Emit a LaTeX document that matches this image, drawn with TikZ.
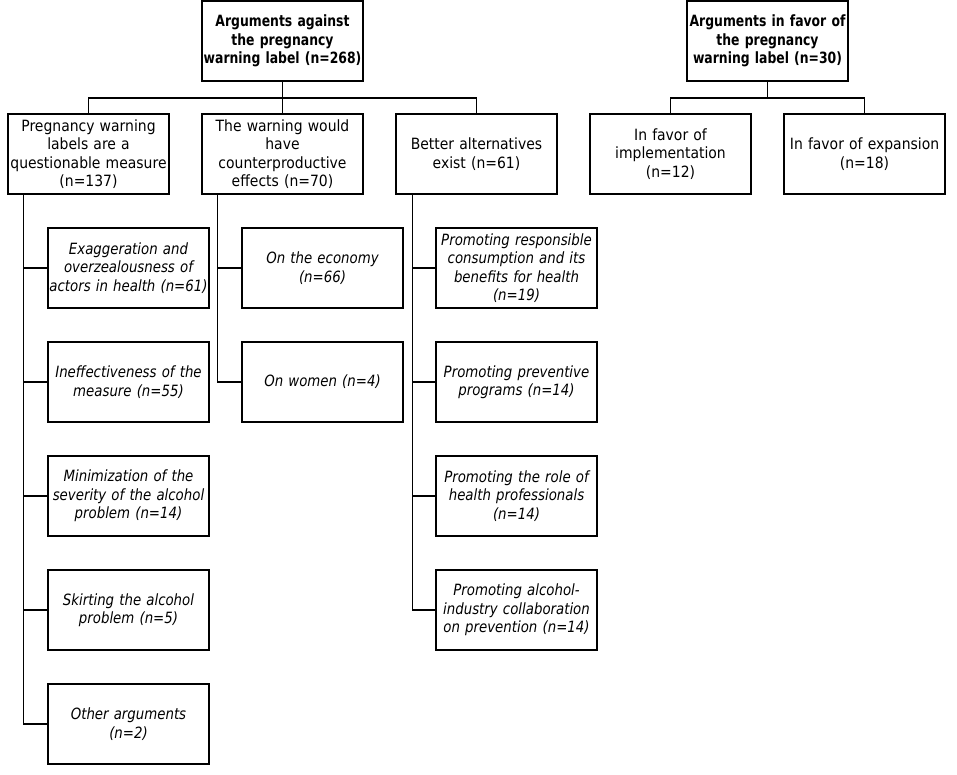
\documentclass[tikz,border=0pt]{standalone}
\usepackage{fontspec}
\setmainfont{DejaVu Sans}[FakeStretch=0.9,
  BoldFeatures={FakeStretch=0.8}, ItalicFeatures={FakeStretch=0.86}]
\usetikzlibrary{positioning}

\tikzset{
  box/.style={draw, line width=1.2pt, minimum width=161pt, minimum height=80pt,
    text width=160pt, align=center, inner sep=0pt,
    font=\fontsize{15.5}{18.5}\selectfont},
  sub/.style={box, font=\fontsize{15.5}{18.5}\selectfont\itshape},
  head/.style={box, font=\fontsize{15.5}{18.5}\selectfont\bfseries},
  link/.style={line width=1.2pt}
}

\begin{document}
\begin{tikzpicture}[x=1pt, y=1pt]
  \useasboundingbox (0,0) rectangle (957,-774);

  % Top level
  \node[head] (against) at (282.5,-41)
    {Arguments against\\ the pregnancy\\ warning label (n=268)};
  \node[head] (favor) at (767.5,-41)
    {Arguments in favor of\\ the pregnancy\\ warning label (n=30)};

  % Second level
  \node[box] (quest)   at (88.5,-154)  {Pregnancy warning\\ labels are a\\ questionable measure\\ (n=137)};
  \node[box] (counter) at (282.5,-154) {The warning would\\ have\\ counterproductive\\ effects (n=70)};
  \node[box] (alter)   at (476.5,-154) {Better alternatives\\ exist (n=61)};
  \node[box] (impl)    at (670.5,-154) {In favor of\\ implementation\\ (n=12)};
  \node[box] (expan)   at (864.5,-154) {In favor of expansion\\ (n=18)};

  % Third level
  \node[sub] (q1) at (128.5,-268) {Exaggeration and\\ overzealousness of\\ actors in health (n=61)};
  \node[sub] (q2) at (128.5,-382) {Ineffectiveness of the\\ measure (n=55)};
  \node[sub] (q3) at (128.5,-496) {Minimization of the\\ severity of the alcohol\\ problem (n=14)};
  \node[sub] (q4) at (128.5,-610) {Skirting the alcohol\\ problem (n=5)};
  \node[sub] (q5) at (128.5,-724) {Other arguments\\ (n=2)};

  \node[sub] (c1) at (322.5,-268) {On the economy\\ (n=66)};
  \node[sub] (c2) at (322.5,-382) {On women (n=4)};

  \node[sub] (a1) at (516.5,-268) {Promoting responsible\\ consumption and its\\ benefits for health\\ (n=19)};
  \node[sub] (a2) at (516.5,-382) {Promoting preventive\\ programs (n=14)};
  \node[sub] (a3) at (516.5,-496) {Promoting the role of\\ health professionals\\ (n=14)};
  \node[sub] (a4) at (516.5,-610) {Promoting alcohol-\\ industry collaboration\\ on prevention (n=14)};

  % Bars
  \coordinate (bar1) at (against.south |- 0,-98);
  \coordinate (bar2) at (favor.south |- 0,-98);
  \draw[link] (against.south) -- (bar1);
  \draw[link] (quest.north) |- (bar1) -| (alter.north);
  \draw[link] (counter.north) -- (bar1);
  \draw[link] (favor.south) -- (bar2);
  \draw[link] (impl.north) |- (bar2) -| (expan.north);

  % Trunks
  \coordinate (qt) at ([xshift=16pt]quest.south west);
  \coordinate (ct) at ([xshift=16pt]counter.south west);
  \coordinate (at) at ([xshift=17pt]alter.south west);
  \draw[link] (qt) |- (q5.west);
  \foreach \n in {q1,q2,q3,q4}
    \draw[link] (\n.west) -- (qt |- \n.west);
  \draw[link] (ct) |- (c2.west);
  \draw[link] (c1.west) -- (ct |- c1.west);
  \draw[link] (at) |- (a4.west);
  \foreach \n in {a1,a2,a3}
    \draw[link] (\n.west) -- (at |- \n.west);
\end{tikzpicture}
\end{document}
